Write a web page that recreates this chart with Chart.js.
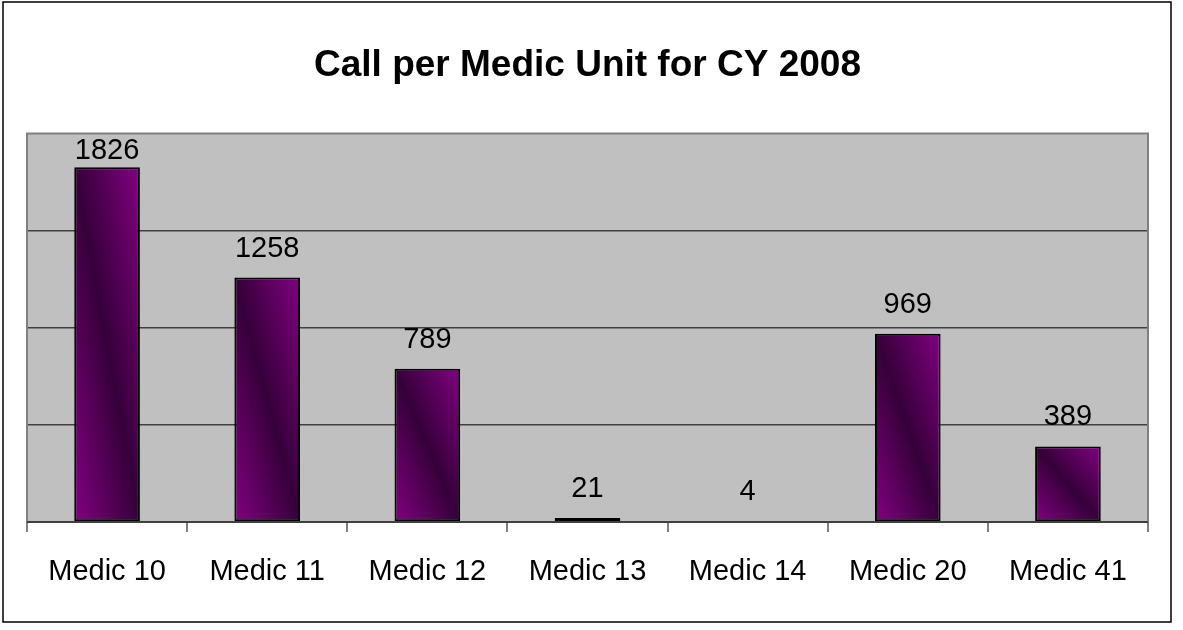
<!DOCTYPE html>
<html>
<head>
<meta charset="utf-8">
<script src="https://cdn.jsdelivr.net/npm/chart.js@4/dist/chart.umd.min.js"></script>
<style>
  html, body { margin: 0; padding: 0; background: #ffffff; }
  #wrap { width: 1183px; height: 630px; position: relative; }
</style>
</head>
<body>
<div id="wrap"><canvas id="c" width="1183" height="630"></canvas></div>
<script>
const categories = ['Medic 10', 'Medic 11', 'Medic 12', 'Medic 13', 'Medic 14', 'Medic 20', 'Medic 41'];
const calls = [1826, 1258, 789, 21, 4, 969, 389];
const yTicks = [0, 500, 1000, 1500, 2000];
const titleText = 'Call per Medic Unit for CY 2008';

const FONT = "'Liberation Sans', Arial, sans-serif";
const PURPLE = '#820082';
const DARK = '#36003a';
const BAR_PCT = 0.41;
const LABEL_SIZE = 29;

function barGradient(ctx) {
  const chart = ctx.chart;
  const xs = chart.scales.x, ys = chart.scales.y;
  if (!xs || !ys || ctx.dataIndex === undefined) return PURPLE;
  const cx = xs.getPixelForValue(ctx.dataIndex);
  const catW = (xs.right - xs.left) / categories.length;
  const w = catW * BAR_PCT;
  const top = ys.getPixelForValue(calls[ctx.dataIndex]);
  const base = ys.getPixelForValue(0);
  const h = Math.max(base - top, 1);
  if (!isFinite(cx) || !isFinite(top)) return PURPLE;
  const cy = (top + base) / 2;
  const L = Math.sqrt(w * w + h * h);
  const ux = h / L, uy = -w / L;
  const k = w * h / L;
  const g = chart.ctx.createLinearGradient(cx - ux * k, cy - uy * k, cx + ux * k, cy + uy * k);
  g.addColorStop(0, PURPLE);
  g.addColorStop(0.5, DARK);
  g.addColorStop(1, PURPLE);
  return g;
}

const framePlugin = {
  id: 'frame',
  beforeDraw(chart) {
    const c = chart.ctx, a = chart.chartArea;
    c.save();
    c.fillStyle = '#ffffff';
    c.fillRect(0, 0, chart.width, chart.height);
    c.fillStyle = '#c0c0c0';
    c.fillRect(a.left, a.top, a.right - a.left, a.bottom - a.top);
    c.strokeStyle = '#000000';
    c.lineWidth = 1.5;
    c.strokeRect(3, 2, 1168, 620);
    c.restore();
  },
  beforeDatasetsDraw(chart) {
    const c = chart.ctx, a = chart.chartArea;
    c.save();
    c.strokeStyle = '#808080';
    c.lineWidth = 2;
    c.beginPath();
    c.moveTo(a.left, a.bottom);
    c.lineTo(a.left, a.top);
    c.lineTo(a.right, a.top);
    c.lineTo(a.right, a.bottom);
    c.stroke();
    c.restore();
  },
  afterDatasetsDraw(chart) {
    const c = chart.ctx;
    const a = chart.chartArea;
    const meta = chart.getDatasetMeta(0);
    c.save();
    c.fillStyle = '#000000';
    c.font = LABEL_SIZE + 'px ' + FONT;
    c.textAlign = 'center';
    c.textBaseline = 'alphabetic';
    const cap = LABEL_SIZE * 0.72;
    meta.data.forEach((el, i) => {
      const yb = Math.max(el.y - 21, a.top + 5 + cap);
      c.fillText(String(calls[i]), el.x, yb);
    });
    c.strokeStyle = '#404040';
    c.lineWidth = 2;
    c.beginPath();
    c.moveTo(a.left, a.bottom);
    c.lineTo(a.right, a.bottom);
    c.stroke();
    c.restore();
  }
};

new Chart(document.getElementById('c'), {
  type: 'bar',
  data: {
    labels: categories,
    datasets: [{
      data: calls,
      backgroundColor: barGradient,
      borderColor: '#000000',
      borderWidth: 2,
      borderSkipped: false,
      categoryPercentage: 1,
      barPercentage: BAR_PCT
    }]
  },
  options: {
    responsive: false,
    animation: false,
    devicePixelRatio: 1,
    layout: { padding: { left: 27, right: 35, top: 0, bottom: 0 } },
    plugins: {
      legend: { display: false },
      tooltip: { enabled: false },
      title: {
        display: true,
        text: titleText,
        color: '#000000',
        font: { family: FONT, size: 37, weight: 'bold' },
        padding: { top: 44, bottom: 45 }
      }
    },
    scales: {
      x: {
        grid: {
          display: true,
          drawOnChartArea: false,
          drawTicks: true,
          tickLength: 10,
          color: '#808080',
          lineWidth: 2,
          offset: true
        },
        border: { display: false },
        ticks: {
          color: '#000000',
          font: { family: FONT, size: LABEL_SIZE },
          padding: 23,
          maxRotation: 0,
          autoSkip: false
        },
        afterFit(scale) { scale.height = 108; }
      },
      y: {
        min: 0,
        max: 2000,
        afterBuildTicks(scale) { scale.ticks = yTicks.map(v => ({ value: v })); },
        grid: {
          color: (ctx) => (ctx.tick && (ctx.tick.value === 0 || ctx.tick.value === 2000)) ? 'rgba(0,0,0,0)' : '#404040',
          lineWidth: 1.5,
          drawTicks: false
        },
        border: { display: false },
        ticks: { display: false },
        afterFit(scale) { scale.width = 0; }
      }
    }
  },
  plugins: [framePlugin]
});
</script>
</body>
</html>
